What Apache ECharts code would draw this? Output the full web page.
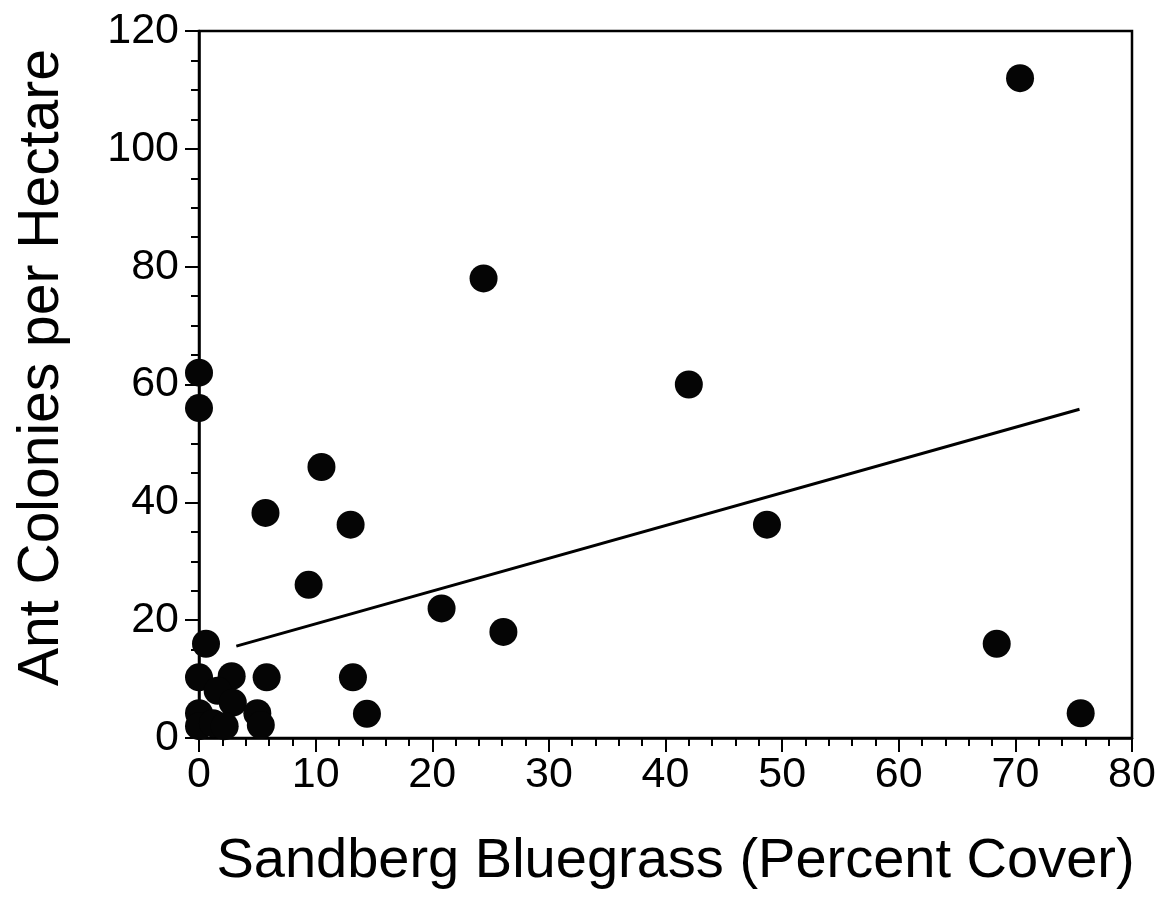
<!DOCTYPE html>
<html>
<head>
<meta charset="utf-8">
<script src="https://cdn.jsdelivr.net/npm/echarts@6/dist/echarts.min.js"></script>
<style>html,body{margin:0;padding:0;background:#fff;}#c{width:1166px;height:902px;}</style>
</head>
<body>
<div id="c"></div>
<script>
// Sandberg Bluegrass percent cover (x) and ant colonies per hectare (y)
const coverX = [70.4, 24.4, 42.0, 48.7, 20.8, 26.1, 68.4, 75.6, 0, 0, 10.5, 5.7, 13.0, 9.4, 0.6, 0, 2.8, 5.8, 13.2, 14.4, 1.6, 2.9, 0, 0, 1.2, 2.2, 5.0, 5.3];
const coloniesY = [112, 78, 60, 36.2, 22, 18, 16, 4.2, 62, 56, 46, 38.2, 36.2, 26, 16, 10.3, 10.5, 10.3, 10.3, 4.1, 8, 6, 4.2, 2, 2.5, 2, 4.2, 2.2];
// regression line endpoints
const fitX = [3.2, 75.5];
const fitY = [15.6, 55.8];

const xTitle = 'Sandberg Bluegrass (Percent Cover)';
const yTitle = 'Ant Colonies per Hectare';

const points = coverX.map((x, i) => [x, coloniesY[i]]);
const fit = fitX.map((x, i) => [x, fitY[i]]);

const chart = echarts.init(document.getElementById('c'), null, {renderer: 'canvas'});
const font = '"Liberation Sans", Arial, Helvetica, sans-serif';
chart.setOption({
  animation: false,
  backgroundColor: '#fff',
  grid: {left: 199, right: 34, top: 31, bottom: 164, show: true, borderColor: '#000', borderWidth: 2.5, backgroundColor: 'transparent'},
  xAxis: {
    type: 'value', min: 0, max: 80, interval: 10,
    name: xTitle, nameLocation: 'middle', nameGap: 96,
    nameTextStyle: {fontFamily: font, fontSize: 56, color: '#000', padding: [0, 0, 0, 20]},
    axisLine: {show: true, lineStyle: {color: '#000', width: 2.5}},
    axisTick: {show: true, inside: false, length: 14, lineStyle: {color: '#000', width: 2}},
    minorTick: {show: true, splitNumber: 5, length: 8, lineStyle: {color: '#000', width: 2}},
    axisLabel: {fontFamily: font, fontSize: 43, color: '#000', margin: 16},
    splitLine: {show: false}
  },
  yAxis: {
    type: 'value', min: 0, max: 120, interval: 20,
    name: yTitle, nameLocation: 'middle', nameGap: 128, nameRotate: 90,
    nameTextStyle: {fontFamily: font, fontSize: 57, color: '#000', padding: [0, 0, 0, 34]},
    axisLine: {show: true, lineStyle: {color: '#000', width: 2.5}},
    axisTick: {show: true, inside: false, length: 14, lineStyle: {color: '#000', width: 2}},
    minorTick: {show: true, splitNumber: 4, length: 8, lineStyle: {color: '#000', width: 2}},
    axisLabel: {fontFamily: font, fontSize: 43, color: '#000', margin: 20},
    splitLine: {show: false}
  },
  series: [
    {
      type: 'scatter', data: points, symbol: 'circle', symbolSize: 28, clip: false,
      itemStyle: {color: '#050505', opacity: 1}
    },
    {
      type: 'line', data: fit, symbol: 'none', clip: false,
      lineStyle: {color: '#000', width: 3}
    }
  ]
});
</script>
</body>
</html>
